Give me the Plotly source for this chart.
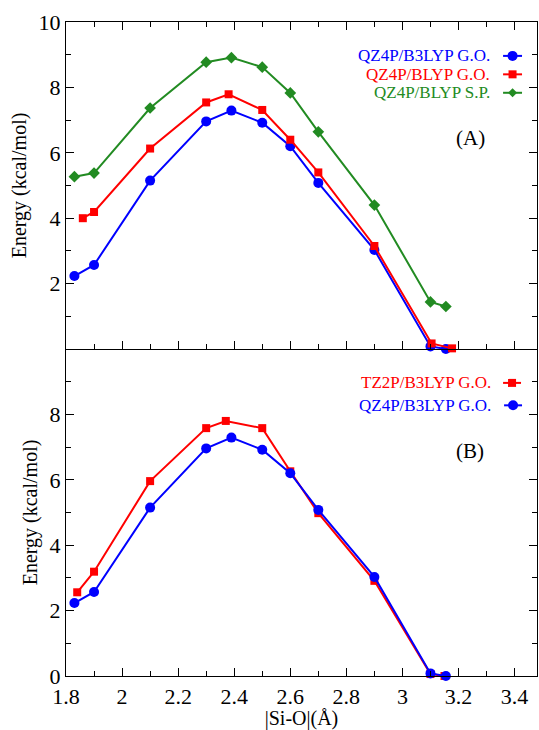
import plotly.graph_objects as go

# ---- data ----
x_blue = [1.83, 1.90, 2.10, 2.30, 2.39, 2.50, 2.60, 2.70, 2.90, 3.10, 3.155]
y_blue = [2.23, 2.57, 5.15, 6.96, 7.29, 6.92, 6.20, 5.08, 3.03, 0.08, 0.0]

x_red_a = [1.86, 1.90, 2.10, 2.30, 2.38, 2.50, 2.60, 2.70, 2.90, 3.104, 3.177]
y_red_a = [4.00, 4.19, 6.13, 7.54, 7.79, 7.31, 6.40, 5.40, 3.15, 0.17, 0.02]

x_green = [1.83, 1.90, 2.10, 2.30, 2.39, 2.50, 2.60, 2.70, 2.90, 3.10, 3.155]
y_green = [5.27, 5.38, 7.37, 8.77, 8.91, 8.62, 7.83, 6.64, 4.40, 1.44, 1.30]

x_red_b = [1.84, 1.90, 2.10, 2.30, 2.37, 2.50, 2.60, 2.70, 2.90, 3.10, 3.15]
y_red_b = [2.56, 3.19, 5.96, 7.58, 7.80, 7.58, 6.26, 4.98, 2.91, 0.06, 0.0]

names_a = ["QZ4P/B3LYP G.O.", "QZ4P/BLYP G.O.", "QZ4P/BLYP S.P."]
names_b = ["TZ2P/B3LYP G.O.", "QZ4P/B3LYP G.O."]
x_ticks = [1.8, 2.0, 2.2, 2.4, 2.6, 2.8, 3.0, 3.2, 3.4]
x_ticktext = ["1.8", "2", "2.2", "2.4", "2.6", "2.8", "3", "3.2", "3.4"]
y_ticks_a = [2, 4, 6, 8, 10]
y_ticks_b = [0, 2, 4, 6, 8]

BLUE = "#0000ff"
RED = "#ff0000"
GREEN = "#228b22"
FONT = "Liberation Serif, Times New Roman, serif"

fig = go.Figure()

def add(x, y, color, symbol, size, xa, ya, name):
    fig.add_trace(go.Scatter(
        x=x, y=y, mode="lines+markers", name=name, xaxis=xa, yaxis=ya,
        line=dict(color=color, width=2),
        marker=dict(color=color, symbol=symbol, size=size, line=dict(width=0)),
        cliponaxis=False, showlegend=False))

add(x_blue, y_blue, BLUE, "circle", 10, "x", "y", names_a[0])
add(x_red_a, y_red_a, RED, "square", 8, "x", "y", names_a[1])
add(x_green, y_green, GREEN, "diamond", 9, "x", "y", names_a[2])
add(x_red_b, y_red_b, RED, "square", 8, "x2", "y2", names_b[0])
add(x_blue, y_blue, BLUE, "circle", 10, "x2", "y2", names_b[1])

def xaxis_cfg(mirror):
    return dict(range=[1.8, 3.48], tickvals=x_ticks, ticktext=x_ticktext,
                ticks="inside", ticklen=8, tickwidth=1, tickcolor="black",
                showline=True, linecolor="black", linewidth=1.3, mirror=mirror,
                showgrid=False, zeroline=False,
                minor=dict(dtick=0.1, tick0=1.8, ticks="inside", ticklen=5, tickcolor="black"),
                tickfont=dict(family=FONT, size=22, color="black"))

common_y = dict(range=[0, 10], ticks="inside", ticklen=8, tickwidth=1, tickcolor="black",
                showline=True, linecolor="black", linewidth=1.3, mirror="ticks",
                showgrid=False, zeroline=False,
                minor=dict(dtick=1, tick0=0, ticks="inside", ticklen=5, tickcolor="black"),
                tickfont=dict(family=FONT, size=22, color="black"))

fig.update_layout(
    width=539, height=730,
    margin=dict(l=66, r=1, t=22, b=52),
    paper_bgcolor="white", plot_bgcolor="white",
    font=dict(family=FONT, color="black"),
    xaxis=dict(**xaxis_cfg("ticks"), domain=[0, 1], anchor="y", showticklabels=False),
    yaxis=dict(**common_y, domain=[0.5, 1], anchor="x", tickvals=y_ticks_a,
               title=dict(text="Energy (kcal/mol)", font=dict(family=FONT, size=20), standoff=6)),
    xaxis2=dict(**xaxis_cfg(False), domain=[0, 1], anchor="y2",
                title=dict(text="|Si-O|(Å)", font=dict(family=FONT, size=20), standoff=6)),
    yaxis2=dict(**common_y, domain=[0, 0.5], anchor="x2", tickvals=y_ticks_b,
                title=dict(text="Energy (kcal/mol)", font=dict(family=FONT, size=20), standoff=6)),
)

def ypaper(py):
    return 1 - (py - 22) / (730 - 22 - 52)

def xpaper(px):
    return (px - 66) / (539 - 66 - 1)

def legend_row(text, color, symbol, py, text_right=493, l0=504, l1=523):
    yp = ypaper(py)
    fig.add_annotation(text=text, xref="paper", yref="paper", x=xpaper(text_right), y=yp,
                       xanchor="right", yanchor="middle", showarrow=False,
                       font=dict(family=FONT, size=17, color=color))
    fig.add_shape(type="line", xref="paper", yref="paper", x0=xpaper(l0), x1=xpaper(l1),
                  y0=yp, y1=yp, line=dict(color=color, width=2))
    xc = xpaper((l0 + l1) / 2)
    if symbol == "circle":
        fig.add_shape(type="circle", xref="paper", yref="paper", xsizemode="pixel",
                      ysizemode="pixel", xanchor=xc, yanchor=yp, x0=-5, x1=5, y0=-5, y1=5,
                      fillcolor=color, line=dict(width=0))
    elif symbol == "square":
        fig.add_shape(type="rect", xref="paper", yref="paper", xsizemode="pixel",
                      ysizemode="pixel", xanchor=xc, yanchor=yp, x0=-4, x1=4, y0=-4, y1=4,
                      fillcolor=color, line=dict(width=0))
    else:
        fig.add_shape(type="path", xref="paper", yref="paper", xsizemode="pixel",
                      ysizemode="pixel", xanchor=xc, yanchor=yp,
                      path="M -4.5 0 L 0 4.5 L 4.5 0 L 0 -4.5 Z",
                      fillcolor=color, line=dict(width=0))

legend_row(names_a[0], BLUE, "circle", 56)
legend_row(names_a[1], RED, "square", 74.5)
legend_row(names_a[2], GREEN, "diamond", 93)
legend_row(names_b[0], RED, "square", 384, text_right=494, l0=504, l1=522)
legend_row(names_b[1], BLUE, "circle", 406.5, text_right=494, l0=505, l1=523)

fig.add_annotation(text="(A)", xref="paper", yref="paper", x=xpaper(471), y=ypaper(138),
                   xanchor="center", yanchor="middle", showarrow=False,
                   font=dict(family=FONT, size=21, color="black"))
fig.add_annotation(text="(B)", xref="paper", yref="paper", x=xpaper(471), y=ypaper(452),
                   xanchor="center", yanchor="middle", showarrow=False,
                   font=dict(family=FONT, size=21, color="black"))

fig.write_html("out.html")
